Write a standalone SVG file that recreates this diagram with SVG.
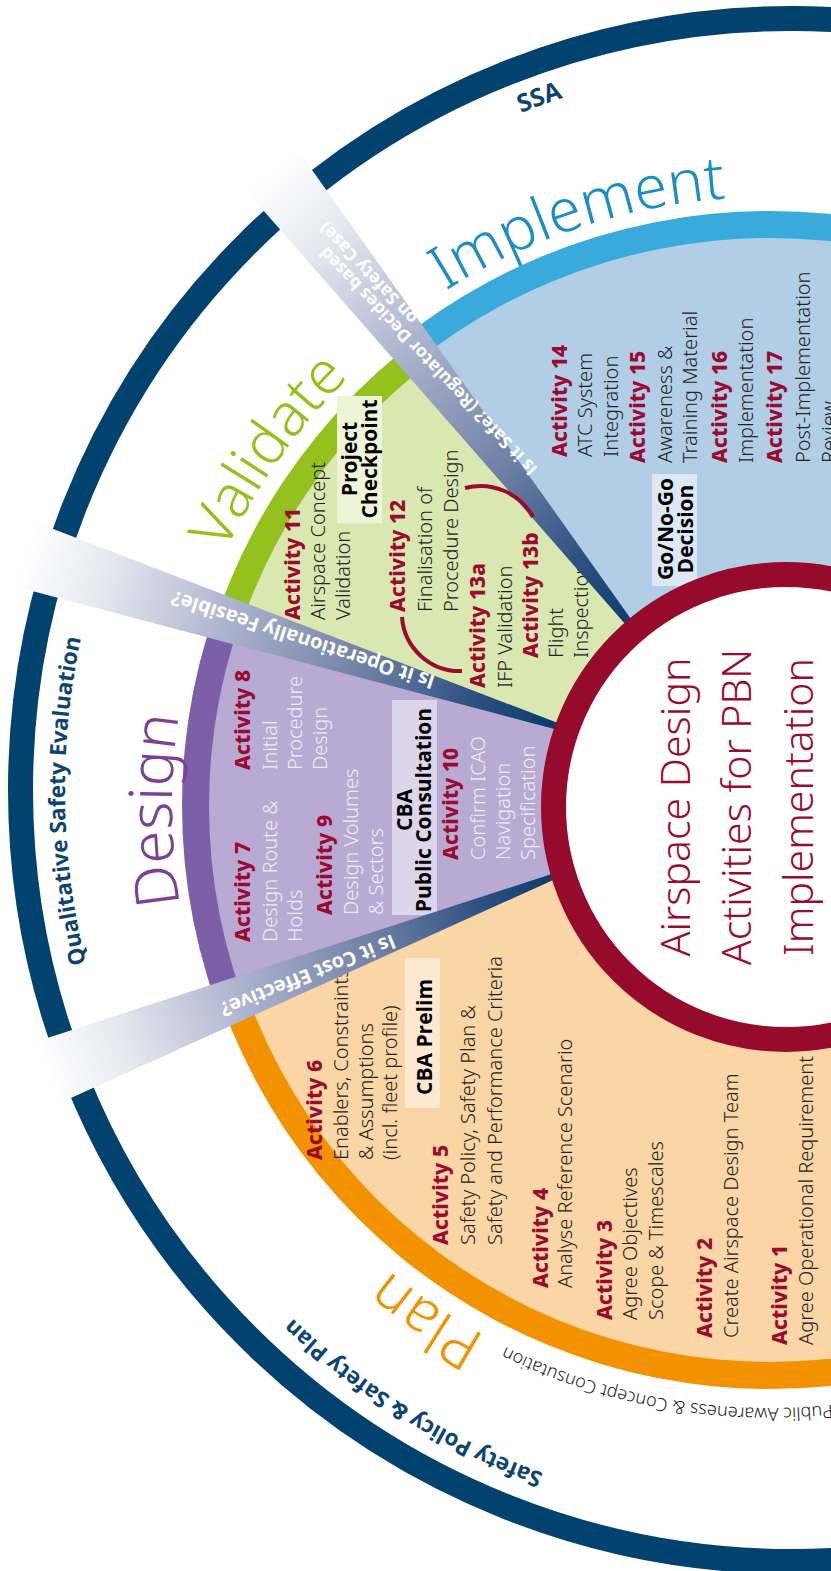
<svg xmlns="http://www.w3.org/2000/svg" width="831" height="1571" viewBox="0 0 831 1571">
<style>
.act{font-family:"Noto Sans","Open Sans","Liberation Sans",sans-serif;font-weight:800;font-size:21px;fill:#9b0b30}
.lt{font-family:"Noto Sans","Open Sans","Liberation Sans",sans-serif;font-weight:300;font-size:20px;fill:#222}
.ltw{font-family:"Noto Sans","Open Sans","Liberation Sans",sans-serif;font-weight:300;font-size:20px;fill:#f1edf7}
.bx{font-family:"Open Sans","Liberation Sans",sans-serif;font-weight:700;font-size:21px;fill:#000;text-anchor:middle}
.gate{font-family:"Open Sans","Liberation Sans",sans-serif;font-weight:700;font-size:20px;fill:#fff}
.phase{font-family:"Noto Sans","Open Sans","Liberation Sans",sans-serif;font-weight:300;font-size:60px}
.ring{font-family:"Open Sans","Liberation Sans",sans-serif;font-weight:700;font-size:22.5px;fill:#0d4474}
.hub{font-family:"Noto Sans","Open Sans","Liberation Sans",sans-serif;font-weight:300;font-size:41px;fill:#9b0b2f;text-anchor:middle}
.pub{font-family:"Noto Sans","Open Sans","Liberation Sans",sans-serif;font-weight:300;font-size:18px;fill:#1a1a1a}
.arc{fill:none;stroke:#9b0b30;stroke-width:4}
</style>
<defs>
<linearGradient id="g1" gradientUnits="userSpaceOnUse" x1="272" y1="170" x2="658" y2="602">
<stop offset="0" stop-color="#ffffff"/><stop offset="0.15" stop-color="#e6e8f0"/><stop offset="0.4" stop-color="#a9b0cb"/><stop offset="0.65" stop-color="#6f80a6"/><stop offset="0.85" stop-color="#2f5283"/><stop offset="1" stop-color="#0a3d6d"/>
</linearGradient>
<linearGradient id="g2" gradientUnits="userSpaceOnUse" x1="26" y1="554" x2="548" y2="725">
<stop offset="0" stop-color="#ffffff"/><stop offset="0.15" stop-color="#e6e8f0"/><stop offset="0.4" stop-color="#a9b0cb"/><stop offset="0.65" stop-color="#6f80a6"/><stop offset="0.85" stop-color="#2f5283"/><stop offset="1" stop-color="#0a3d6d"/>
</linearGradient>
<linearGradient id="g3" gradientUnits="userSpaceOnUse" x1="47" y1="1072" x2="553" y2="878">
<stop offset="0" stop-color="#ffffff"/><stop offset="0.15" stop-color="#e6e8f0"/><stop offset="0.4" stop-color="#a9b0cb"/><stop offset="0.65" stop-color="#6f80a6"/><stop offset="0.85" stop-color="#2f5283"/><stop offset="1" stop-color="#0a3d6d"/>
</linearGradient>
<clipPath id="cImpl"><polygon points="675,681 -332,-596 1100,-596 1100,807 786,807"/></clipPath>
<clipPath id="cVal"><polygon points="675,681 -332,-596 -857,269 615,745"/></clipPath>
<clipPath id="cDes"><polygon points="615,745 -857,269 -788,1396 604,857"/></clipPath>
<clipPath id="cPlan"><polygon points="604,857 -788,1396 -788,2000 1100,2000 1100,807 786,807"/></clipPath>
<path id="pImpl" d="M445.5,290.7 A609,609 0 0 1 1054,267.3"/>
<path id="pVal" d="M225.3,552 A601,601 0 0 1 717.6,207.3"/>
<path id="pDes" d="M180.2,904.7 A598,598 0 0 1 389.6,344.6"/>
<path id="pPlan" d="M486,1336 A605,605 0 0 1 170.2,821.7"/>
<path id="pPub" d="M1071,1327.3 A602,602 0 0 1 424.7,1299.1"/>
<path id="pSSA" d="M521,113 A729,729 0 0 1 898.5,68.8"/>
<path id="pQual" d="M86,963.4 A727,727 0 0 1 288.8,265.3"/>
<path id="pSafe" d="M543.4,1473.2 A727,727 0 0 1 76,916.2"/>
</defs>

<g id="outer-ring">
<circle cx="792" cy="790" r="771.5" fill="none" stroke="#02426f" stroke-width="25"/>
<text class="ring" style="font-size:25px"><textPath href="#pSSA">SSA</textPath></text>
<text class="ring"><textPath href="#pQual">Qualitative Safety Evaluation</textPath></text>
<text class="ring"><textPath href="#pSafe">Safety Policy &amp; Safety Plan</textPath></text>
</g>

<g id="sector-implement">
<g clip-path="url(#cImpl)">
<circle cx="770" cy="806" r="595" fill="#3aaadc"/>
<circle cx="770" cy="806" r="568" fill="#b2cde6"/>
</g>
<text class="phase" fill="#1b8fc3"><textPath href="#pImpl">Implement</textPath></text>
<text transform="translate(567,457) rotate(-90)"><tspan class="act" x="0" y="0">Activity 14</tspan><tspan class="lt" x="0" y="25">ATC System</tspan><tspan class="lt" x="0" y="51">Integration</tspan></text>
<text transform="translate(645,463) rotate(-90)"><tspan class="act" x="0" y="0">Activity 15</tspan><tspan class="lt" x="0" y="27">Awareness &amp;</tspan><tspan class="lt" x="0" y="52">Training Material</tspan></text>
<text transform="translate(727,463) rotate(-90)"><tspan class="act" x="0" y="0">Activity 16</tspan><tspan class="lt" x="0" y="26">Implementation</tspan></text>
<text transform="translate(782,463) rotate(-90)"><tspan class="act" x="0" y="0">Activity 17</tspan><tspan class="lt" x="0" y="28">Post-Implementation</tspan><tspan class="lt" x="0" y="54">Review</tspan></text>
<rect x="652" y="474" width="45" height="112" fill="#dce8f4"/>
<text class="bx" transform="translate(673,529) rotate(-90)"><tspan x="0" y="0">Go/No-Go</tspan><tspan x="0" y="20">Decision</tspan></text>
</g>

<g id="sector-validate">
<g clip-path="url(#cVal)">
<circle cx="770" cy="806" r="585" fill="#95c11f"/>
<circle cx="770" cy="806" r="559" fill="#d9e8b1"/>
</g>
<text class="phase" fill="#95c11f"><textPath href="#pVal">Validate</textPath></text>
<text transform="translate(300,620) rotate(-90)"><tspan class="act" x="0" y="0">Activity 11</tspan><tspan class="lt" x="0" y="25">Airspace Concept</tspan><tspan class="lt" x="0" y="50">Validation</tspan></text>
<rect x="337" y="396" width="45" height="127" fill="#eef4d8"/>
<text class="bx" transform="translate(357,459) rotate(-90)"><tspan x="0" y="0">Project</tspan><tspan x="0" y="20">Checkpoint</tspan></text>
<text transform="translate(405,612) rotate(-90)"><tspan class="act" x="0" y="0">Activity 12</tspan><tspan class="lt" x="0" y="27">Finalisation of</tspan><tspan class="lt" x="0" y="53">Procedure Design</tspan></text>
<text transform="translate(485,688) rotate(-90)"><tspan class="act" x="0" y="0">Activity 13a</tspan><tspan class="lt" x="0" y="27">IFP Validation</tspan></text>
<text transform="translate(538,658) rotate(-90)"><tspan class="act" x="0" y="0">Activity 13b</tspan><tspan class="lt" x="0" y="25">Flight</tspan><tspan class="lt" x="0" y="50">Inspection</tspan></text>
</g>

<g id="sector-design">
<g clip-path="url(#cDes)">
<circle cx="770" cy="806" r="588" fill="#7d5fa7"/>
<circle cx="770" cy="806" r="561" fill="#b9aad4"/>
</g>
<text class="phase" fill="#7e4097"><textPath href="#pDes">Design</textPath></text>
<text transform="translate(250,770) rotate(-90)"><tspan class="act" x="0" y="0">Activity 8</tspan><tspan class="ltw" x="0" y="27">Initial</tspan><tspan class="ltw" x="0" y="52">Procedure</tspan><tspan class="ltw" x="0" y="77">Design</tspan></text>
<text transform="translate(250,942) rotate(-90)"><tspan class="act" x="0" y="0">Activity 7</tspan><tspan class="ltw" x="0" y="27">Design Route &amp;</tspan><tspan class="ltw" x="0" y="52">Holds</tspan></text>
<text transform="translate(332,915) rotate(-90)"><tspan class="act" x="0" y="0">Activity 9</tspan><tspan class="ltw" x="0" y="26">Design Volumes</tspan><tspan class="ltw" x="0" y="51">&amp; Sectors</tspan></text>
<rect x="392" y="700" width="45" height="215" fill="#ddd5ea"/>
<text class="bx" transform="translate(412,810) rotate(-90)"><tspan x="0" y="0">CBA</tspan><tspan x="0" y="19">Public Consultation</tspan></text>
<text transform="translate(458,860) rotate(-90)"><tspan class="act" x="0" y="0">Activity 10</tspan><tspan class="ltw" x="0" y="27">Confirm ICAO</tspan><tspan class="ltw" x="0" y="52">Navigation</tspan><tspan class="ltw" x="0" y="77">Specification</tspan></text>
</g>

<g id="sector-plan">
<g clip-path="url(#cPlan)">
<circle cx="770" cy="806" r="583" fill="#f39200"/>
<circle cx="770" cy="806" r="556" fill="#fad5a5"/>
</g>
<text class="phase" fill="#f39200"><textPath href="#pPlan">Plan</textPath></text>
<text class="pub"><textPath href="#pPub" startOffset="589" text-anchor="end">Public Awareness &amp; Concept Consutation</textPath></text>
<text transform="translate(322,1160) rotate(-90)"><tspan class="act" x="0" y="0">Activity 6</tspan><tspan class="lt" x="0" y="26">Enablers, Constraints</tspan><tspan class="lt" x="0" y="51">&amp; Assumptions</tspan><tspan class="lt" x="0" y="75">(incl. fleet profile)</tspan></text>
<rect x="405" y="958" width="35" height="150" fill="#fde9d2"/>
<text class="bx" transform="translate(432,1037) rotate(-90)"><tspan x="0" y="0">CBA Prelim</tspan></text>
<text transform="translate(448,1245) rotate(-90)"><tspan class="act" x="0" y="0">Activity 5</tspan><tspan class="lt" x="0" y="27">Safety Policy, Safety Plan &amp;</tspan><tspan class="lt" x="0" y="54">Safety and Performance Criteria</tspan></text>
<text transform="translate(548,1288) rotate(-90)"><tspan class="act" x="0" y="0">Activity 4</tspan><tspan class="lt" x="0" y="24">Analyse Reference Scenario</tspan></text>
<text transform="translate(612,1320) rotate(-90)"><tspan class="act" x="0" y="0">Activity 3</tspan><tspan class="lt" x="0" y="25">Agree Objectives</tspan><tspan class="lt" x="0" y="51">Scope &amp; Timescales</tspan></text>
<text transform="translate(712,1338) rotate(-90)"><tspan class="act" x="0" y="0">Activity 2</tspan><tspan class="lt" x="0" y="26">Create Airspace Design Team</tspan></text>
<text transform="translate(787,1345) rotate(-90)"><tspan class="act" x="0" y="0">Activity 1</tspan><tspan class="lt" x="0" y="26">Agree Operational Requirement</tspan></text>
</g>

<g id="connectors">
<polygon points="295,146 249,194 675,681" fill="url(#g1)"/>
<polygon points="35,522 17,587 615,745" fill="url(#g2)"/>
<polygon points="32,1043 62,1102 604,857" fill="url(#g3)"/>
<text class="gate" style="font-size:17.5px" transform="translate(537,464) rotate(-133.5)"><tspan x="-4" y="-2">Is it Safe? (Regulator Decides based</tspan><tspan x="188" y="15">on Safety Case)</tspan></text>
<text class="gate" transform="translate(436,676) rotate(-162)">Is it Operationally Feasible?</text>
<text class="gate" transform="translate(392,934) rotate(158)">Is it Cost Effective?</text>
<path class="arc" d="M402,617 A58,58 0 0 0 462,671"/>
<path class="arc" d="M465,488 A60,60 0 0 1 533,517"/>
</g>

<g id="hub">
<circle cx="786" cy="807" r="232.5" fill="#ffffff" stroke="#960a2c" stroke-width="25"/>
<text class="hub" transform="translate(690,807) rotate(-90)"><tspan x="0" y="0">Airspace Design</tspan><tspan x="0" y="61">Activities for PBN</tspan><tspan x="0" y="123">Implementation</tspan></text>
</g>
</svg>
